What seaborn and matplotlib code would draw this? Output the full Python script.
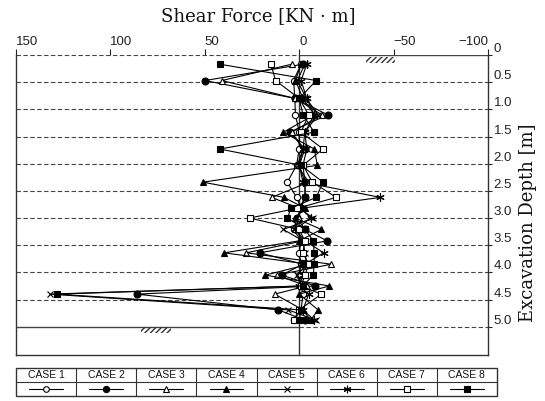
import matplotlib
matplotlib.use("Agg")
import matplotlib.pyplot as plt
import seaborn as sns
import numpy as np
import pandas as pd
from matplotlib.patches import Rectangle

sns.set_theme(style="white")
plt.rcParams['font.family'] = ['Liberation Sans', 'DejaVu Sans']

# ---- data ----
depths = [0.17, 0.47, 0.80, 1.10, 1.42, 1.73, 2.03, 2.34, 2.62, 2.82,
          3.00, 3.21, 3.42, 3.64, 3.85, 4.05, 4.25, 4.40, 4.69, 4.88]
case_names = ["CASE 1", "CASE 2", "CASE 3", "CASE 4",
              "CASE 5", "CASE 6", "CASE 7", "CASE 8"]
case1 = [-1, 3, 2.3, 2, 0, 0, 1.4, 6.3, 1.4, -1, 1, 3, -1, 0, -1, 0, -1, -2, -1, 3]
case2 = [-2, 50, 2, -15, 5, -3, 0, -3, -3, -1, 1, -3, -14.8, 21, -2, 9.3, -8.6, 86, 11, -3]
case3 = [4, 41, 2, -12, 4, -2, 1, -5, 14.6, 0, 0, 2, -2, 28, -17, 12, -4, 13, -2, -6]
case4 = [-1, 2, -2, -8, 8.4, -8, -9.6, 51, 8, -3, 2, -11.7, 0, 39.7, -5, 18, -16, 0, -10, -6]
case5 = [-3, 1, -3.8, -10, -3, -4, -2, -3, -3.3, 0, -7.4, 8.4, -2, -3, -4, 1, -1, 132, 5.8, -9]
case6 = [-4, -1, -4, -8, -3, -2, 0, -2, -43, -1, -6, 2, -3, -13, -3, -2, 0, -5, -2, -8]
case7 = [15, 12.5, 0, -5, -1, -12.6, -2, -7, -19.6, 1, 26.3, 0, -3, -2, -5, -3, -1, -11.7, 0, 3]
case8 = [42, -9, 0, -2, -7.9, 42, -1, -12.6, -9, 4.4, 6.2, -3, -7.5, -7.9, -8, -7.4, -2, 128.5, -1, 0]
series = [case1, case2, case3, case4, case5, case6, case7, case8]

x_ticks = [150, 100, 50, 0, -50, -100]
y_ticks = [0, 0.5, 1.0, 1.5, 2.0, 2.5, 3.0, 3.5, 4.0, 4.5, 5.0]
y_ticklabels = ["0", "0.5", "1.0", "1.5", "2.0", "2.5", "3.0", "3.5", "4.0", "4.5", "5.0"]

# ---- style ----
markers = ['o', 'o', '^', '^', 'x', (6, 2, 0), 's', 's']
faces = ['white', 'black', 'white', 'black', 'black', 'black', 'white', 'black']
msizes = [4.5, 5, 5, 5, 5, 6, 4.5, 5]

W, H = 545, 401
fig = plt.figure(figsize=(W / 100, H / 100), dpi=100)
ax = fig.add_axes([16 / W, 1 - 355 / H, (488 - 16) / W, (355 - 55) / H])
ax.set_xlim(150, -100)
ax.set_ylim(5.52, 0)

# grid / ground lines
dash = dict(color='#444444', lw=0.8, ls=(0, (4, 2.2)))
for d in y_ticks[1:-1]:
    ax.plot([150, -100], [d, d], **dash, zorder=1)
ax.plot([150, 0], [0, 0], **dash, zorder=1)
ax.plot([0, -100], [0, 0], color='#444444', lw=1.0, zorder=1)
ax.plot([0, -100], [5.0, 5.0], **dash, zorder=1)
ax.plot([150, 0], [5.0, 5.0], color='#444444', lw=1.0, zorder=1)
ax.axvline(0, color='#333333', lw=1.0, zorder=1)
# ground hatch symbols
for (x0, w, y0) in [(-51, 15.5, 0.04), (68, 16, 5.01)]:
    ax.add_patch(Rectangle((x0, y0), w, 0.1, fill=False, hatch='//////',
                           lw=0, edgecolor='#333333', zorder=1))

for vals, m, fc, ms in zip(series, markers, faces, msizes):
    sns.lineplot(x=vals, y=depths, sort=False, estimator=None, ax=ax,
                 color='black', lw=0.8, marker=m, markersize=ms,
                 markerfacecolor=fc, markeredgecolor='black',
                 markeredgewidth=0.8, legend=False, zorder=3)

# axes formatting
for s in ['left', 'right', 'bottom']:
    ax.spines[s].set_color('#333333')
    ax.spines[s].set_linewidth(1.0)
ax.spines['top'].set_visible(False)
ax.xaxis.tick_top()
ax.set_xticks(x_ticks)
ax.set_xticklabels([str(v).replace('-', '\u2212') for v in x_ticks])
ax.tick_params(axis='x', direction='out', length=4, width=0.8, pad=1,
               labelsize=9.5, colors='#222222', top=True, bottom=False)
labs = ax.get_xticklabels()
for i, lab in enumerate(labs):
    lab.set_ha('right' if i == len(labs) - 1 else 'left')
ax.yaxis.tick_right()
ax.set_yticks(y_ticks)
ax.set_yticklabels(y_ticklabels)
ax.tick_params(axis='y', direction='out', length=3, width=0.8, pad=1,
               labelsize=9.5, colors='#222222', left=False, right=True)
for lab in ax.get_yticklabels():
    lab.set_va('bottom')
ax.set_xlabel('')
ax.set_ylabel('')

fig.text(258 / W, 1 - 16 / H, 'Shear Force [KN \u00b7 m]', ha='center', va='center',
         family=['DejaVu Serif'], fontsize=13, color='#111111')
fig.text(528 / W, 1 - 223 / H, 'Excavation Depth [m]', ha='center', va='center',
         rotation=90, family=['DejaVu Serif'], fontsize=13, color='#111111')

# legend table
lax = fig.add_axes([16 / W, 1 - 396 / H, (497 - 16) / W, (396 - 368) / H])
lax.set_xlim(0, 8)
lax.set_ylim(0, 2)
lax.axis('off')
lax.add_patch(Rectangle((0, 0), 8, 2, fill=False, lw=1.0, edgecolor='#333333', clip_on=False))
lax.plot([0, 8], [1, 1], color='#333333', lw=0.8)
for i in range(1, 8):
    lax.plot([i, i], [0, 2], color='#333333', lw=0.8)
for i, (name, m, fc, ms) in enumerate(zip(case_names, markers, faces, msizes)):
    lax.text(i + 0.5, 1.5, name, ha='center', va='center', fontsize=7.5,
             color='#111111')
    lax.plot([i + 0.22, i + 0.78], [0.5, 0.5], color='black', lw=0.8)
    lax.plot([i + 0.5], [0.5], marker=m, markersize=ms * 0.9, markerfacecolor=fc,
             markeredgecolor='black', markeredgewidth=0.8, color='black')

fig.savefig('out.png', dpi=100)
